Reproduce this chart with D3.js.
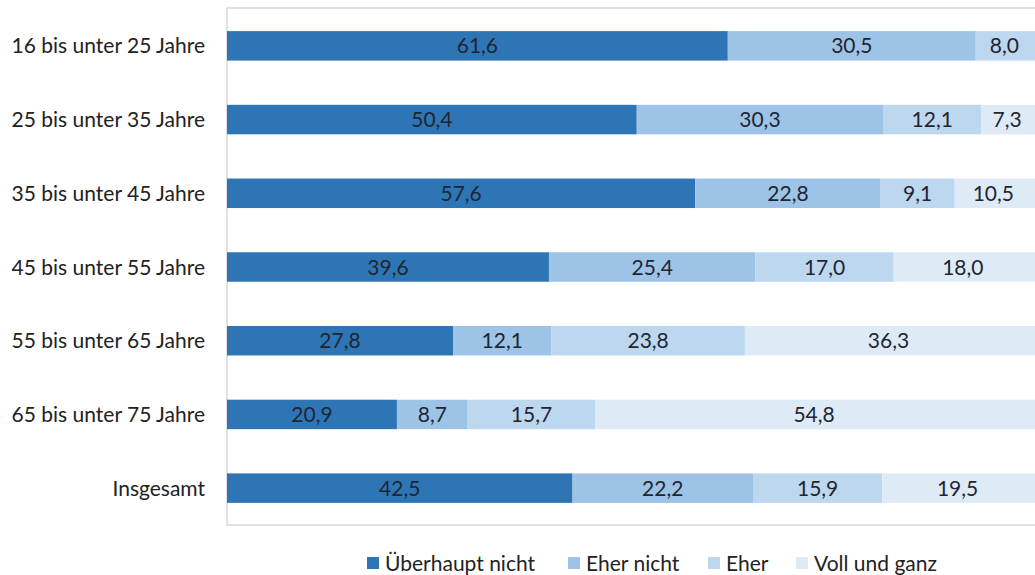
<!DOCTYPE html>
<html><head><meta charset="utf-8">
<script src="https://cdn.jsdelivr.net/npm/d3@7"></script>
<style>body{margin:0;background:#fff}svg{display:block}text{font-family:Lato,"Open Sans",sans-serif}</style>
</head><body><svg id="c" width="1035" height="575"></svg>
<script>
const categories = ["16 bis unter 25 Jahre","25 bis unter 35 Jahre","35 bis unter 45 Jahre","45 bis unter 55 Jahre","55 bis unter 65 Jahre","65 bis unter 75 Jahre","Insgesamt"];
const seriesNames = ["Überhaupt nicht","Eher nicht","Eher","Voll und ganz"];
const ueberhauptNicht = [61.6,50.4,57.6,39.6,27.8,20.9,42.5];
const eherNicht = [30.5,30.3,22.8,25.4,12.1,8.7,22.2];
const eher = [8.0,12.1,9.1,17.0,23.8,15.7,15.9];
const vollUndGanz = [0,7.3,10.5,18.0,36.3,54.8,19.5];
const colors = ["#2E75B6","#9DC3E6","#BDD7EE","#DEEBF7"];

(function(){
const rows = categories.map((c,i)=>({cat:c, "Überhaupt nicht":ueberhauptNicht[i], "Eher nicht":eherNicht[i], "Eher":eher[i], "Voll und ganz":vollUndGanz[i]}));
const stack = d3.stack().keys(seriesNames)(rows);

const svg = d3.select("#c");
const pL=227, pR=1040, pT=9, pB=525;
const fs = 21;
const x = d3.scaleLinear().domain([0,100]).range([pL,pR]);
const y = d3.scaleBand().domain(categories).range([pT,pB]).paddingInner(0.6).paddingOuter(0.3);

svg.append("rect").attr("x",pL).attr("y",pT-1).attr("width",pR-pL+5).attr("height",pB-pT+1)
  .attr("fill","none").attr("stroke","#d9d9d9").attr("stroke-width",1.5);

const g = svg.append("g");
stack.forEach((s,si)=>{
  const gg = g.append("g").attr("fill",colors[si]);
  gg.selectAll("rect").data(s).join("rect")
    .attr("x",d=>x(d[0])).attr("y",d=>y(d.data.cat))
    .attr("width",d=>x(d[1])-x(d[0])).attr("height",y.bandwidth());
});
stack.forEach((s,si)=>{
  g.append("g").selectAll("text").data(s.filter(d=>d[1]-d[0]>0)).join("text")
    .attr("x",d=>(x(d[0])+x(d[1]))/2 - (x(d[1])>1035?4:0))
    .attr("y",d=>y(d.data.cat)+y.bandwidth()/2)
    .attr("dy","0.36em").attr("text-anchor","middle")
    .attr("font-size",fs).attr("fill","#1e2633")
    .text(d=>d3.format(".1f")(d[1]-d[0]).replace(".",","));
});

svg.append("g").selectAll("text").data(categories).join("text")
  .attr("x",205).attr("y",d=>y(d)+y.bandwidth()/2).attr("dy","0.36em")
  .attr("text-anchor","end").attr("font-size",fs).attr("fill","#222").text(d=>d);

const legX = [367,568,708,796];
const leg = svg.append("g").selectAll("g").data(seriesNames).join("g")
  .attr("transform",(d,i)=>`translate(${legX[i]},563)`);
leg.append("rect").attr("x",0).attr("y",-6).attr("width",12).attr("height",12).attr("fill",(d,i)=>colors[i]);
leg.append("text").attr("x",18).attr("y",0).attr("dy","0.36em").attr("font-size",fs).attr("fill","#222").text(d=>d);
})();
</script></body></html>
